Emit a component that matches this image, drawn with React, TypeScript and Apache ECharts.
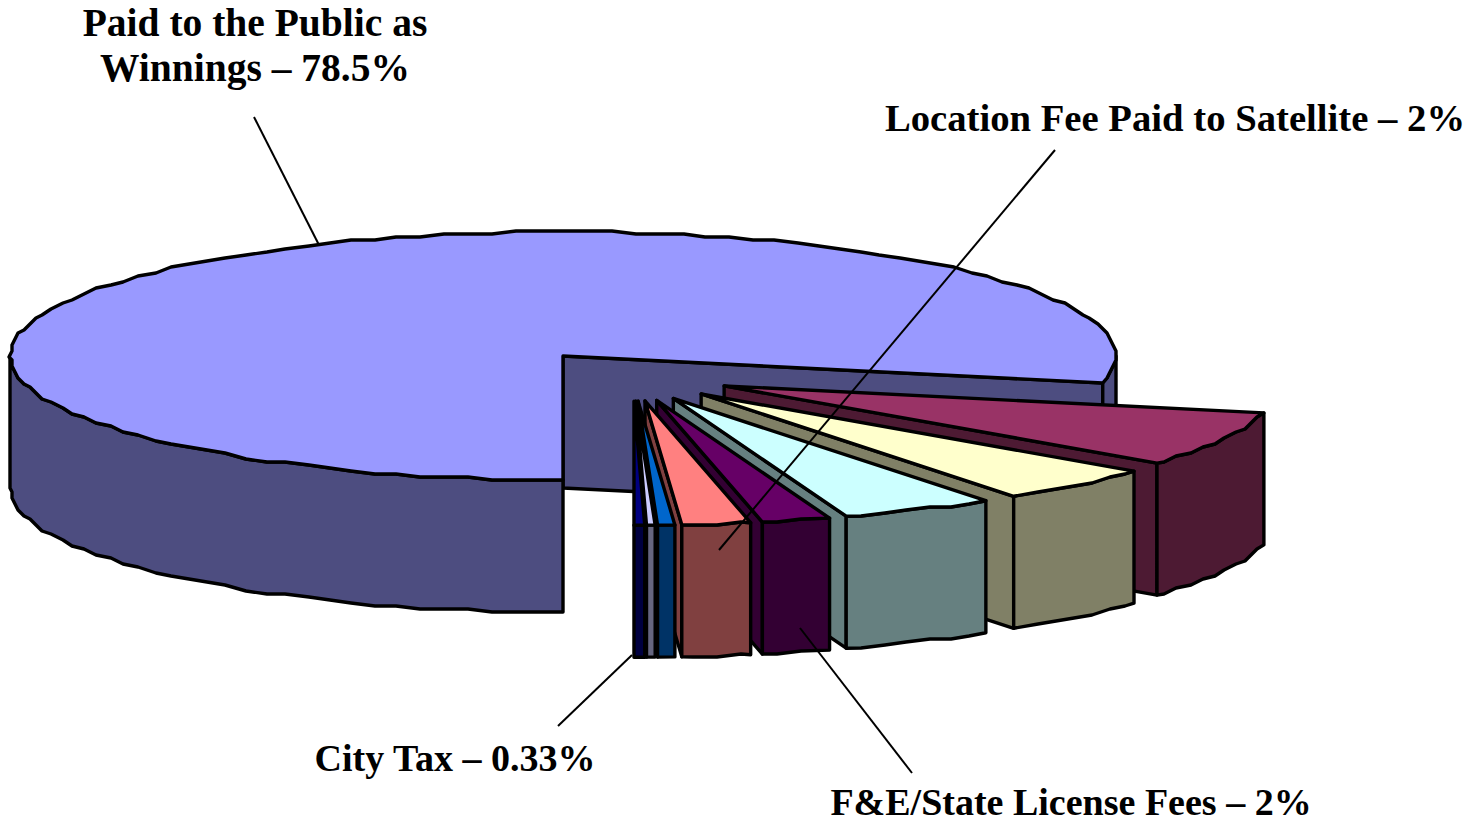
import React, { useEffect, useRef } from "react";
import * as echarts from "echarts";

// Shares of the pie, in drawing order (clockwise from straight down), percent
const shares = [78.5, 7.2, 4.75, 4.5, 2, 2, 0.5, 0.25, 0.31];
// How far each slice is pulled out of the pie (0 = not at all)
const explosion = [0, 1.01, 1, 0.91, 0.94, 0.93, 1, 1, 1];
const topColors = ["#9999FF", "#993366", "#FFFFCC", "#CCFFFF", "#660066", "#FF8080", "#0066CC", "#CCCCFF", "#000080"];
const sideColors = ["#4D4D80", "#4D1A33", "#808066", "#668080", "#330033", "#804040", "#003366", "#666680", "#000040"];

const labelTexts = [
  "Paid to the Public as\nWinnings – 78.5%",
  "Location Fee Paid to Satellite – 2%",
  "City Tax – 0.33%",
  "F&E/State License Fees – 2%",
];

const W = 1467;
const H = 822;
const CX = 563;
const CY = 356;
const RX = 553;
const RY = 124;
const DEPTH = 132;
const STEP = 2.5;
const GRID = 3;
const EDGE = 3.4;
const FONT = "Liberation Serif";

const rad = (d: number) => (d * Math.PI) / 180;
const snap = (v: number) => Math.round(v / GRID) * GRID;

function angles(i: number) {
  const total = shares.reduce((a, b) => a + b, 0);
  const before = shares.slice(0, i).reduce((a, b) => a + b, 0);
  const a1 = 180 + (before / total) * 360;
  const a2 = 180 + ((before + shares[i]) / total) * 360;
  return [a1, a2];
}

function sliceShapes(i: number) {
  const [a1, a2] = angles(i);
  const mid = rad((a1 + a2) / 2);
  const e = explosion[i];
  const ox = e ? 70 + e * 100 * Math.sin(mid) : 0;
  const oy = e ? 18.3 - 26.9 * Math.cos(mid) : 0;
  const tx = CX + ox;
  const ty = CY + oy;
  const rim = (a: number, wobble: boolean) => {
    const x = tx + RX * Math.sin(rad(a));
    const y = ty - RY * Math.cos(rad(a));
    return wobble ? [snap(x), snap(y)] : [x, y];
  };
  const arc = (from: number, to: number) => {
    const pts: number[][] = [rim(from, false)];
    for (let a = Math.ceil(from / STEP + 0.3) * STEP; a < to - STEP * 0.3; a += STEP) pts.push(rim(a, true));
    pts.push(rim(to, false));
    return pts;
  };
  const poly = (points: number[][], fill: string) => ({
    type: "polygon",
    silent: true,
    shape: { points },
    style: { fill, stroke: "#000", lineWidth: EDGE, lineJoin: "round" },
  });
  const down = (p: number[]) => [p[0], p[1] + DEPTH];
  const children: any[] = [];

  // radial cut face at the clockwise end of the slice
  if (Math.sin(rad(a2)) > 0.001) {
    const end = rim(a2, false);
    children.push(poly([[tx, ty], end, down(end), [tx, ty + DEPTH]], sideColors[i]));
  }
  // outer wall: only the parts of the rim that face the viewer
  for (let k = -1; k < 4; k++) {
    const from = Math.max(a1, 90 + 360 * k);
    const to = Math.min(a2, 270 + 360 * k);
    if (to > from) {
      const top = arc(from, to);
      children.push(poly([...top, ...top.slice().reverse().map(down)], sideColors[i]));
    }
  }
  // top face
  children.push(poly([[tx, ty], ...arc(a1, a2)], topColors[i]));
  return { type: "group", children };
}

export default function App() {
  const ref = useRef<HTMLDivElement>(null);
  useEffect(() => {
    document.body.style.margin = "0";
    const chart = echarts.init(ref.current!, null, { renderer: "svg" });
    const leader = (x1: number, y1: number, x2: number, y2: number) => ({
      type: "line",
      z: 20,
      silent: true,
      shape: { x1, y1, x2, y2 },
      style: { stroke: "#000", lineWidth: 2 },
    });
    const label = (text: string, x: number, y: number, size: number, lineHeight: number) => ({
      type: "text",
      z: 20,
      silent: true,
      x,
      y,
      style: {
        text,
        fill: "#000",
        fontFamily: FONT,
        fontWeight: "bold",
        fontSize: size,
        align: "center",
        verticalAlign: "middle",
        lineHeight,
      },
    });
    chart.setOption({
      animation: false,
      backgroundColor: "#fff",
      series: [
        {
          type: "custom",
          coordinateSystem: "none",
          silent: true,
          data: shares.map((v, i) => [i, v]),
          renderItem: (params: any) => sliceShapes(params.dataIndex),
        },
      ],
      graphic: [
        leader(254, 117, 319, 245),
        leader(1055, 150, 719, 550),
        leader(558, 726, 632, 655),
        leader(912, 773, 800, 628),
        label(labelTexts[0], 255, 45, 39.5, 45),
        label(labelTexts[1], 1175, 118, 38.7, 40),
        label(labelTexts[2], 455, 758, 38, 40),
        label(labelTexts[3], 1071, 802, 38, 38),
      ],
    });
    return () => chart.dispose();
  }, []);
  return <div ref={ref} style={{ width: W, height: H, position: "absolute", left: 0, top: 0 }} />;
}
